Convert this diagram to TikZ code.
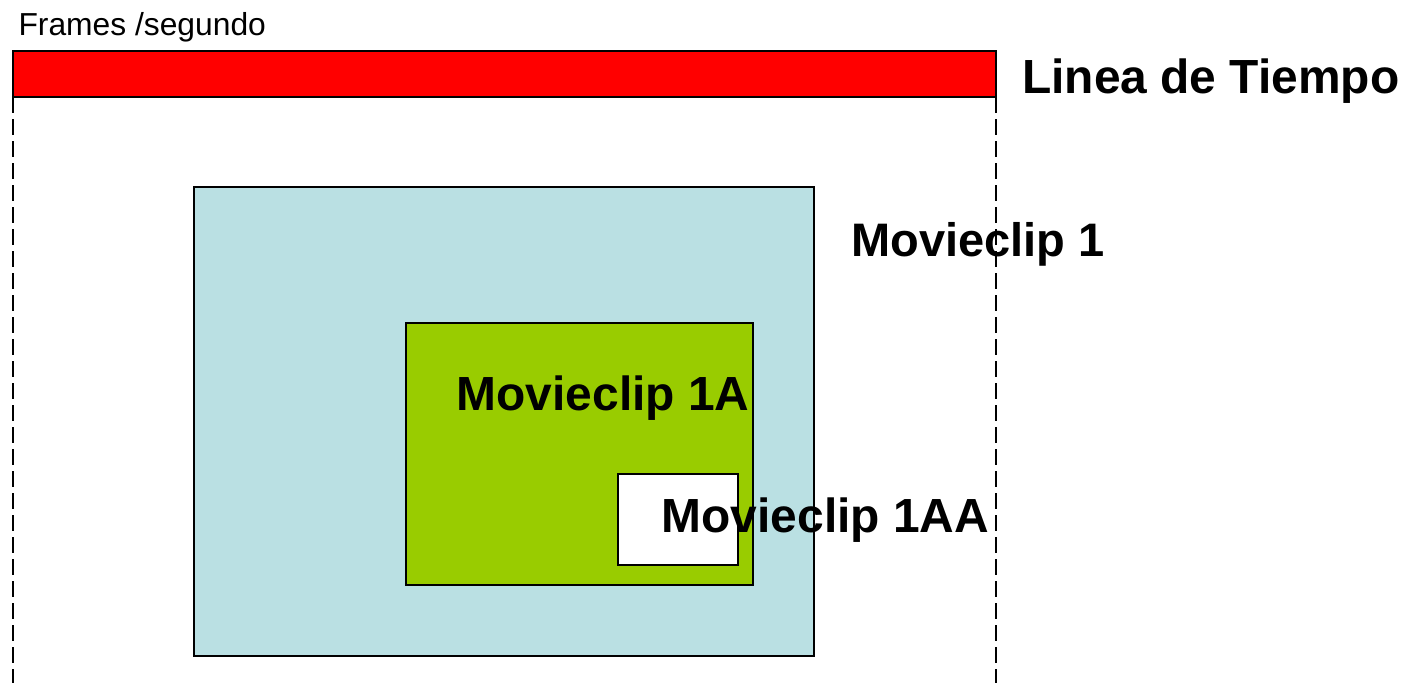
\documentclass[tikz,border=0pt]{standalone}
\usepackage{fontspec}
\setmainfont{Liberation Sans}
\begin{document}
\begin{tikzpicture}[x=1pt,y=-1pt,
  box/.style={draw=black,line width=1.6pt,inner sep=0pt,outer sep=0pt,anchor=north west},
  bigtext/.style={font=\fontsize{47.9}{57}\selectfont\bfseries,inner sep=0pt,anchor=base west},
  smalltext/.style={font=\fontsize{31.8}{38}\selectfont,inner sep=0pt,anchor=base west},
  guide/.style={draw=black,line width=1.4pt,dash pattern=on 16pt off 6pt}]
\useasboundingbox (0,0) rectangle (1414,683);
\fill[white] (0,0) rectangle (1414,683);
\definecolor{barred}{HTML}{FF0000}
\definecolor{clipblue}{HTML}{BAE0E3}
\definecolor{clipgreen}{HTML}{99CC00}
% timeline bar
\node[box,fill=barred,minimum width=983pt,minimum height=46pt] (bar) at (13,51) {};
\coordinate (bl) at (13,683);
\coordinate (br) at (996,683);
\draw[guide] (bar.south west) -- (bl);
\draw[guide] (bar.south east) -- (br);
% clips
\node[box,fill=clipblue,minimum width=620pt,minimum height=469pt] (mc1) at (194,187) {};
\node[box,fill=clipgreen,minimum width=347pt,minimum height=262pt] (mc1a) at (406,323) {};
\node[box,fill=white,minimum width=120pt,minimum height=91pt] (mc1aa) at (618,474) {};
% texts
\node[smalltext] (fps) at (18.3,35) {Frames /segundo};
\node[bigtext] (tl) at (1022,93.5) {Linea de Tiempo};
\node[bigtext,font=\fontsize{47}{56}\selectfont\bfseries] (t1) at (851,256.5) {Movieclip 1};
\node[bigtext] (t1a) at (456.5,410.5) {Movieclip 1A};
\node[bigtext] (t1aa) at (661.5,532.5) {Movieclip 1AA};
\end{tikzpicture}
\end{document}
